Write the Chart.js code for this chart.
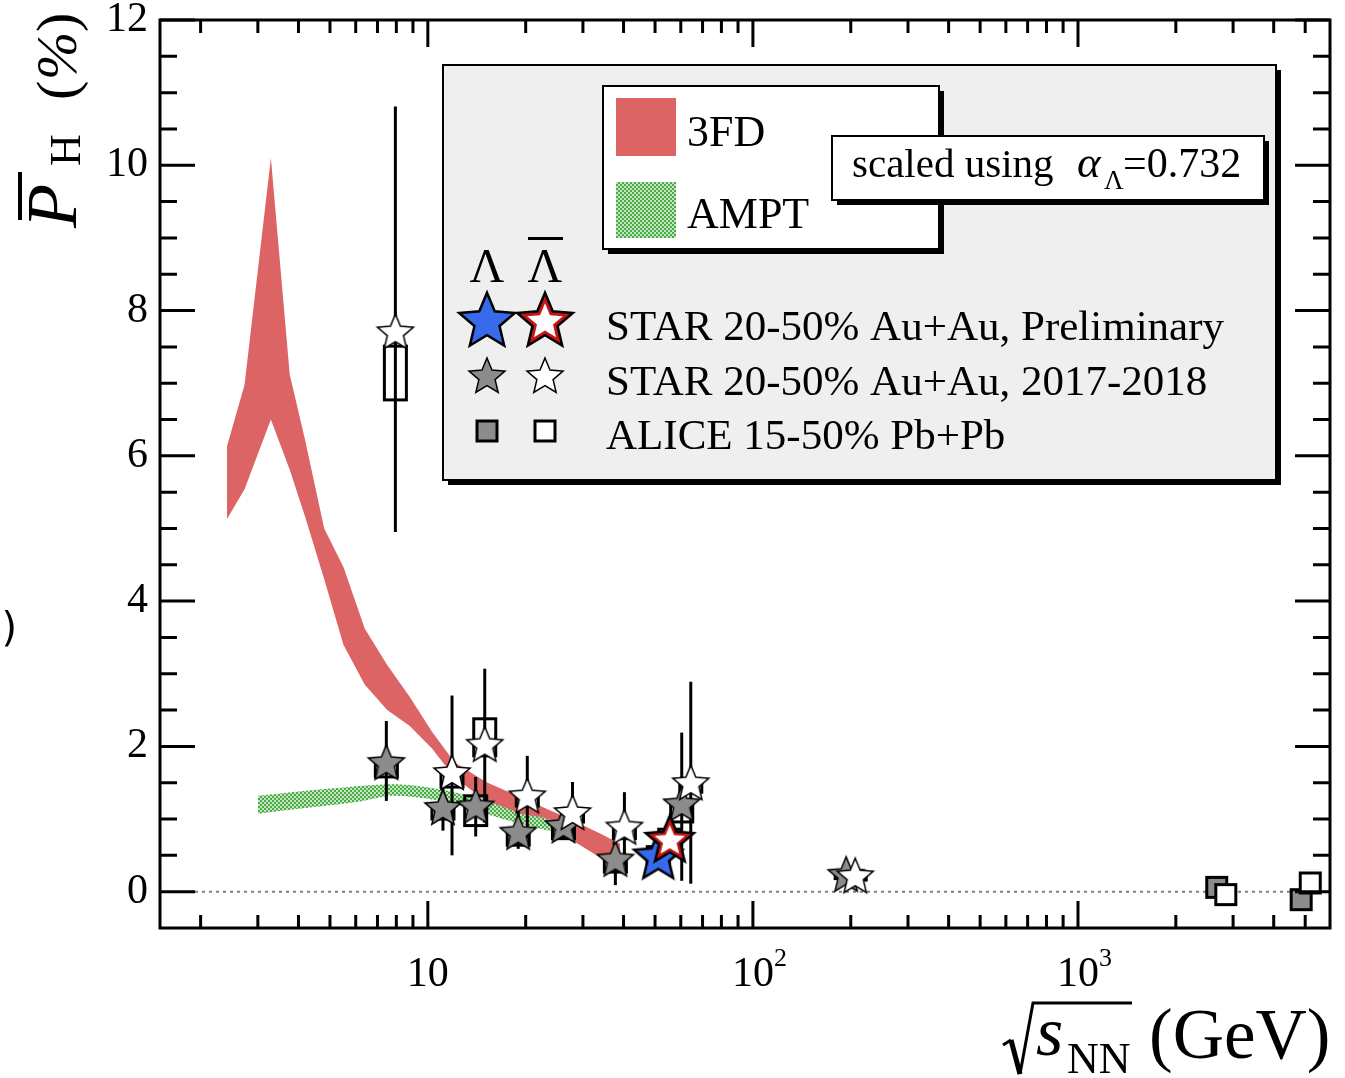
<!DOCTYPE html>
<html>
<head>
<meta charset="utf-8">
<title>Global hyperon polarization</title>
<script src="https://cdn.jsdelivr.net/npm/chart.js@4.4.1/dist/chart.umd.min.js"></script>
<style>
  html, body { margin: 0; padding: 0; background: #fff; }
  canvas { display: block; }
</style>
</head>
<body>
<canvas id="chart" width="1345" height="1078"></canvas>
<script>
// collision energies (GeV)
const energies = [7.7, 11.5, 14.5, 19.6, 27, 39, 62.4, 200];

// Lambda, STAR 20-50% 2017-2018
const lambdaP = [1.76, 1.14, 1.16, 0.80, 0.89, 0.43, 1.19, 0.22];
const lambdaErrUp = [0.59, 0.29, 0.42, 0.32, 0.17, 0.30, 1.00, 0.05];
const lambdaErrDown = [0.51, 0.30, 0.40, 0.21, 0.17, 0.34, 1.04, 0.05];
const lambdaSysLo = [1.58, 1.00, 0.91, 0.64, 0.73, 0.27, 0.96, 0.18];
const lambdaSysHi = [1.80, 1.20, 1.32, 0.82, 0.89, 0.45, 1.20, 0.26];

// anti-Lambda, STAR 20-50% 2017-2018
const antiP = [7.69, 1.62, 2.01, 1.30, 1.07, 0.87, 1.48, 0.20];
const antiErrUp = [3.12, 1.08, 1.06, 0.57, 0.44, 0.50, 1.41, 0.05];
const antiErrDown = [2.74, 1.12, 1.06, 0.57, 0.34, 0.51, 1.37, 0.05];
const antiSysLo = [6.77, 1.44, 1.87, 1.18, 0.96, 0.73, 1.37, 0.16];
const antiSysHi = [7.51, 1.64, 2.38, 1.32, 1.09, 0.89, 1.50, 0.24];

// STAR preliminary
const prelimEnergy = [54.4];
const prelimLambdaP = [0.47];
const prelimAntiP = [0.70];
const prelimLambdaSysLo = [0.38];
const prelimLambdaSysHi = [0.62];
const prelimAntiSysLo = [0.60];
const prelimAntiSysHi = [0.86];

// ALICE 15-50% Pb+Pb
const aliceEnergy = [2760, 5020];
const aliceLambdaP = [0.06, -0.11];
const aliceAntiP = [-0.04, 0.12];

// 3FD band
const fdX = [2.41, 2.73, 3.29, 3.76, 4.2, 4.8, 5.5, 6.4, 7.5, 8.8, 10.3, 12.1, 15.1, 20.9, 27.3, 33.9, 39];
const fdHigh = [6.13, 6.98, 10.10, 7.12, 6.2, 5.0, 4.47, 3.62, 3.12, 2.68, 2.2, 1.78, 1.51, 1.23, 1.0, 0.8, 0.66];
const fdLow = [5.13, 5.54, 6.5, 5.81, 5.15, 4.3, 3.4, 2.85, 2.5, 2.28, 1.97, 1.57, 1.25, 0.96, 0.73, 0.47, 0.38];

// AMPT band
const amptX = [3.0, 4.0, 5.0, 6.3, 7.7, 9.2, 11.5, 14.5, 17, 19.6, 22, 25];
const amptHigh = [1.32, 1.38, 1.42, 1.46, 1.48, 1.46, 1.39, 1.28, 1.17, 1.07, 1.03, 0.96];
const amptLow = [1.07, 1.14, 1.19, 1.25, 1.32, 1.30, 1.23, 1.10, 1.00, 0.93, 0.87, 0.82];

const yTicks = [0, 2, 4, 6, 8, 10, 12];
const xTickLabels = [[10, "10", ""], [100, "10", "2"], [1000, "10", "3"]];

const SERIF = '"Liberation Serif", "Times New Roman", serif';
const fdColor = "rgb(221, 100, 100)";
const shiftL = 0.968;
const shiftA = 1.032;

const canvas = document.getElementById("chart");
const ctx0 = canvas.getContext("2d");

// hatched green for AMPT
const tile = document.createElement("canvas");
tile.width = tile.height = 4;
const tg = tile.getContext("2d");
tg.fillStyle = "#c4e6bd";
tg.fillRect(0, 0, 4, 4);
tg.fillStyle = "#4caa4c";
tg.fillRect(0, 0, 2, 2);
tg.fillRect(2, 2, 2, 2);
const amptPattern = ctx0.createPattern(tile, "repeat");

function starPath(g, cx, cy, R, r) {
    g.beginPath();
    for (let i = 0; i < 10; i++) {
        const rad = i % 2 === 0 ? R : r;
        const a = -Math.PI / 2 + i * Math.PI / 5;
        const px = cx + rad * Math.cos(a);
        const py = cy + rad * Math.sin(a);
        if (i === 0) g.moveTo(px, py); else g.lineTo(px, py);
    }
    g.closePath();
}

function makeStar(R, fill, lw, rim) {
    const size = Math.ceil(2 * R + 4 * lw + 8);
    const c = document.createElement("canvas");
    c.width = c.height = size;
    const g = c.getContext("2d");
    const m = size / 2;
    g.lineJoin = "miter";
    starPath(g, m, m, R, R * 0.45);
    g.lineWidth = lw;
    g.strokeStyle = "#000";
    g.stroke();
    if (rim) {
        g.fillStyle = rim;
        g.fill();
        starPath(g, m, m, R * 0.72, R * 0.72 * 0.45);
    }
    g.fillStyle = fill;
    g.fill();
    return c;
}

function makeSquare(s, fill, lw) {
    const size = s + lw + 4;
    const c = document.createElement("canvas");
    c.width = c.height = size;
    const g = c.getContext("2d");
    const o = (size - s) / 2;
    g.fillStyle = fill;
    g.fillRect(o, o, s, s);
    g.lineWidth = lw;
    g.strokeStyle = "#000";
    g.strokeRect(o, o, s, s);
    return c;
}

const greyStar = makeStar(17, "#8c8c8c", 3);
const openStar = makeStar(17, "#ffffff", 3);
const blueStar = makeStar(22, "rgb(55, 105, 235)", 5);
const redStar = makeStar(22, "#ffffff", 5, "rgb(200, 20, 20)");
const greySquare = makeSquare(20, "#8c8c8c", 3);
const openSquare = makeSquare(20, "#ffffff", 3);
const legendBlue = makeStar(26, "rgb(55, 105, 235)", 5);
const legendRed = makeStar(26, "#ffffff", 5, "rgb(200, 20, 20)");

function points(xArr, yArr, f) {
    return xArr.map((x, i) => ({ x: x * f, y: yArr[i] }));
}

function markerSet(data, img) {
    return { data, showLine: false, pointStyle: img, pointRadius: 12, order: 0 };
}

const datasets = [
    markerSet(points(prelimEnergy, prelimAntiP, 1.02), redStar),
    markerSet(points(prelimEnergy, prelimLambdaP, 0.94), blueStar),
    markerSet(points(energies, antiP, shiftA), openStar),
    markerSet(points(energies, lambdaP, shiftL), greyStar),
    markerSet(points(aliceEnergy, aliceAntiP, shiftA), openSquare),
    markerSet(points(aliceEnergy, aliceLambdaP, shiftL), greySquare),
    { data: points(fdX, fdLow, 1), borderWidth: 0, borderColor: "rgba(0,0,0,0)", pointRadius: 0, fill: false, order: 6, tension: 0 },
    { data: points(fdX, fdHigh, 1), borderWidth: 0, borderColor: "rgba(0,0,0,0)", pointRadius: 0, fill: "-1", backgroundColor: fdColor, order: 5, tension: 0 },
    { data: points(amptX, amptLow, 1), borderWidth: 0, borderColor: "rgba(0,0,0,0)", pointRadius: 0, fill: false, order: 4, tension: 0.3 },
    { data: points(amptX, amptHigh, 1), borderWidth: 0, borderColor: "rgba(0,0,0,0)", pointRadius: 0, fill: "-1", backgroundColor: amptPattern, order: 3, tension: 0.3, lastBand: true },
];

const errSeries = [
    { x: energies, f: shiftL, y: lambdaP, up: lambdaErrUp, down: lambdaErrDown, lo: lambdaSysLo, hi: lambdaSysHi },
    { x: energies, f: shiftA, y: antiP, up: antiErrUp, down: antiErrDown, lo: antiSysLo, hi: antiSysHi },
    { x: prelimEnergy, f: 0.94, y: prelimLambdaP, lo: prelimLambdaSysLo, hi: prelimLambdaSysHi },
    { x: prelimEnergy, f: 1.02, y: prelimAntiP, lo: prelimAntiSysLo, hi: prelimAntiSysHi },
];

const zeroLine = {
    id: "zeroLine",
    beforeDatasetsDraw(chart) {
        const { ctx, chartArea, scales } = chart;
        const py = scales.y.getPixelForValue(0);
        ctx.save();
        ctx.strokeStyle = "#808080";
        ctx.lineWidth = 2;
        ctx.setLineDash([3, 4]);
        ctx.beginPath();
        ctx.moveTo(chartArea.left, py);
        ctx.lineTo(chartArea.right, py);
        ctx.stroke();
        ctx.restore();
    }
};

const errorBars = {
    id: "errorBars",
    afterDatasetDraw(chart, args) {
        if (!chart.data.datasets[args.index].lastBand) return;
        const { ctx, scales } = chart;
        ctx.save();
        ctx.strokeStyle = "#000";
        ctx.lineWidth = 3;
        for (const s of errSeries) {
            s.x.forEach((e, i) => {
                const px = scales.x.getPixelForValue(e * s.f);
                if (s.up) {
                    ctx.beginPath();
                    ctx.moveTo(px, scales.y.getPixelForValue(s.y[i] + s.up[i]));
                    ctx.lineTo(px, scales.y.getPixelForValue(s.y[i] - s.down[i]));
                    ctx.stroke();
                }
                const y1 = scales.y.getPixelForValue(s.hi[i]);
                const y2 = scales.y.getPixelForValue(s.lo[i]);
                ctx.strokeRect(px - 11, y1, 22, y2 - y1);
            });
        }
        ctx.restore();
    }
};

function shadowBox(ctx, x, y, w, h, fill, sh) {
    ctx.fillStyle = "#000";
    ctx.fillRect(x + sh, y + sh, w, h);
    ctx.fillStyle = fill;
    ctx.fillRect(x, y, w, h);
    ctx.lineWidth = 2;
    ctx.strokeStyle = "#000";
    ctx.strokeRect(x, y, w, h);
}

function drawImg(ctx, img, cx, cy) {
    ctx.drawImage(img, cx - img.width / 2, cy - img.height / 2);
}

function drawLegend(ctx) {
    shadowBox(ctx, 443, 65, 833, 415, "#efefef", 5);
    shadowBox(ctx, 603, 86, 336, 163, "#ffffff", 5);
    ctx.fillStyle = fdColor;
    ctx.fillRect(616, 98, 60, 58);
    ctx.fillStyle = amptPattern;
    ctx.fillRect(616, 182, 60, 56);

    ctx.fillStyle = "#000";
    ctx.textAlign = "left";
    ctx.textBaseline = "alphabetic";
    ctx.font = "44px " + SERIF;
    ctx.fillText("3FD", 687, 146);
    ctx.fillText("AMPT", 687, 228);

    shadowBox(ctx, 832, 136, 432, 64, "#ffffff", 5);
    ctx.fillStyle = "#000";
    ctx.font = "41px " + SERIF;
    ctx.fillText("scaled using", 852, 177);
    ctx.font = "italic 45px " + SERIF;
    ctx.fillText("α", 1077, 177);
    ctx.font = "27px " + SERIF;
    ctx.fillText("Λ", 1104, 189);
    ctx.font = "42px " + SERIF;
    ctx.fillText("=0.732", 1123, 177);

    ctx.textAlign = "center";
    ctx.font = "48px " + SERIF;
    ctx.fillText("Λ", 487, 282);
    ctx.fillText("Λ", 545, 282);
    ctx.fillRect(528, 237, 35, 3);

    drawImg(ctx, legendBlue, 487, 322);
    drawImg(ctx, legendRed, 545, 322);
    drawImg(ctx, greyStar, 487, 377);
    drawImg(ctx, openStar, 545, 377);
    drawImg(ctx, greySquare, 487, 431);
    drawImg(ctx, openSquare, 545, 431);

    ctx.fillStyle = "#000";
    ctx.textAlign = "left";
    ctx.font = "43px " + SERIF;
    ctx.fillText("STAR 20-50% Au+Au, Preliminary", 606, 340);
    ctx.fillText("STAR 20-50% Au+Au, 2017-2018", 606, 395);
    ctx.fillText("ALICE 15-50% Pb+Pb", 606, 449);
}

const frame = {
    id: "frame",
    afterDraw(chart) {
        const { ctx, chartArea, scales } = chart;
        const { left, right, top, bottom } = chartArea;
        const xs = scales.x;
        const ys = scales.y;
        ctx.save();
        ctx.strokeStyle = "#000";
        ctx.lineWidth = 3;
        ctx.beginPath();
        // x ticks, top and bottom
        for (let d = 1; d <= 1000; d *= 10) {
            for (let k = 1; k <= 9; k++) {
                const v = d * k;
                if (v < xs.min || v > xs.max) continue;
                const px = xs.getPixelForValue(v);
                const len = k === 1 ? 27 : 13;
                ctx.moveTo(px, bottom);
                ctx.lineTo(px, bottom - len);
                ctx.moveTo(px, top);
                ctx.lineTo(px, top + len);
            }
        }
        // y ticks, left and right
        for (let v = 0; v <= 12; v += 0.5) {
            const py = ys.getPixelForValue(v);
            const len = v % 2 === 0 ? 35 : 17;
            ctx.moveTo(left, py);
            ctx.lineTo(left + len, py);
            ctx.moveTo(right, py);
            ctx.lineTo(right - len, py);
        }
        ctx.stroke();
        ctx.lineWidth = 3;
        ctx.strokeRect(left, top, right - left, bottom - top);

        // x tick labels
        ctx.fillStyle = "#000";
        ctx.textBaseline = "alphabetic";
        for (const [v, base, sup] of xTickLabels) {
            const px = xs.getPixelForValue(v);
            ctx.font = "42px " + SERIF;
            const w = ctx.measureText(base).width;
            ctx.textAlign = "center";
            ctx.fillText(base, px, 986);
            if (sup) {
                ctx.textAlign = "left";
                ctx.font = "26px " + SERIF;
                ctx.fillText(sup, px + w / 2, 966);
            }
        }

        // x title
        ctx.textAlign = "left";
        ctx.lineWidth = 3;
        ctx.beginPath();
        ctx.moveTo(1003, 1045);
        ctx.lineTo(1011, 1040);
        ctx.stroke();
        ctx.lineWidth = 5;
        ctx.beginPath();
        ctx.moveTo(1011, 1040);
        ctx.lineTo(1020, 1074);
        ctx.stroke();
        ctx.lineWidth = 3;
        ctx.beginPath();
        ctx.moveTo(1020, 1074);
        ctx.lineTo(1033, 1003);
        ctx.lineTo(1132, 1003);
        ctx.stroke();
        ctx.font = "italic 70px " + SERIF;
        ctx.fillText("s", 1036, 1055);
        ctx.font = "44px " + SERIF;
        ctx.fillText("NN", 1067, 1073);
        ctx.font = "71px " + SERIF;
        ctx.fillText("(GeV)", 1149, 1058);

        // y title
        ctx.save();
        ctx.translate(76, 228);
        ctx.rotate(-Math.PI / 2);
        ctx.font = "italic 72px " + SERIF;
        ctx.fillText("P", 0, 0);
        ctx.fillRect(8, -58, 48, 4);
        ctx.font = "44px " + SERIF;
        ctx.fillText("H", 62, 4);
        ctx.font = "58px " + SERIF;
        ctx.fillText("(", 128, 0);
        ctx.font = "italic 58px " + SERIF;
        ctx.fillText("%", 148, 0);
        ctx.font = "58px " + SERIF;
        ctx.fillText(")", 196, 0);
        ctx.restore();

        // stray label piece at the left edge
        ctx.font = "40px DejaVu Sans";
        ctx.textAlign = "right";
        ctx.fillText(".)", 17, 641);

        drawLegend(ctx);
        ctx.restore();
    }
};

Chart.defaults.color = "#000";

new Chart(canvas, {
    type: "line",
    data: { datasets },
    options: {
        responsive: false,
        animation: false,
        events: [],
        devicePixelRatio: 1,
        layout: { padding: { top: 20, right: 15, left: 0, bottom: 0 } },
        plugins: {
            legend: { display: false },
            tooltip: { enabled: false }
        },
        scales: {
            x: {
                type: "logarithmic",
                min: 1.5,
                max: 5960,
                bounds: "data",
                grid: { display: false, drawTicks: false },
                border: { display: false },
                ticks: { display: false },
                afterFit(s) {
                    s.height = 150;
                    s.paddingLeft = 0;
                    s.paddingRight = 0;
                }
            },
            y: {
                type: "linear",
                min: -0.5,
                max: 12,
                grid: { display: false, drawTicks: false },
                border: { display: false },
                ticks: {
                    autoSkip: false,
                    padding: 12,
                    color: "#000",
                    font: { family: "Liberation Serif", size: 42 },
                    callback: (v) => String(v)
                },
                afterBuildTicks(s) {
                    s.ticks = yTicks.map((v) => ({ value: v }));
                },
                afterFit(s) {
                    s.width = 160;
                    s.paddingTop = 0;
                    s.paddingBottom = 0;
                }
            }
        }
    },
    plugins: [zeroLine, errorBars, frame]
});
</script>
</body>
</html>
